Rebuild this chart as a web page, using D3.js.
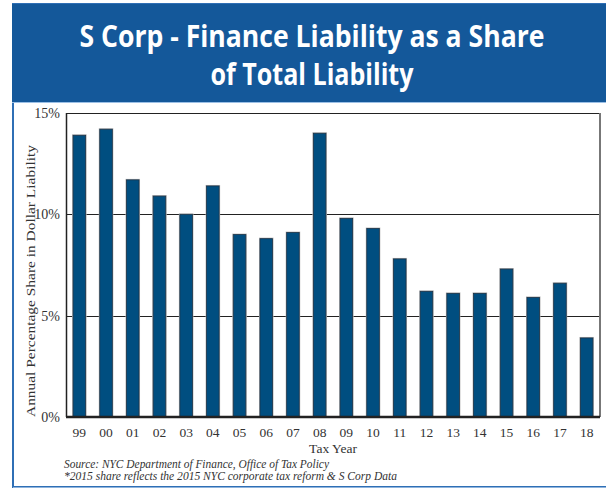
<!DOCTYPE html>
<html>
<head>
<meta charset="utf-8">
<script src="https://cdn.jsdelivr.net/npm/d3@7"></script>
<style>
  html, body { margin: 0; padding: 0; background: #fff; }
  svg { display: block; }
</style>
</head>
<body>
<div id="chart"></div>
<script>
// data
const years = ["99", "00", "01", "02", "03", "04", "05", "06", "07", "08",
               "09", "10", "11", "12", "13", "14", "15", "16", "17", "18"];
const shares = [13.9, 14.2, 11.7, 10.9, 10.0, 11.4, 9.0, 8.8, 9.1, 14.0,
                9.8, 9.3, 7.8, 6.2, 6.1, 6.1, 7.3, 5.9, 6.6, 3.9];
const yTicks = [0, 5, 10, 15];
const titleLines = ["S Corp - Finance Liability as a Share", "of Total Liability"];
const sourceLines = [
  "Source: NYC Department of Finance, Office of Tax Policy",
  "*2015 share reflects the 2015 NYC corporate tax reform & S Corp Data"
];

const W = 606, H = 489;
const blue = "#14589a";
const barFill = "#004e80";
const serif = "'Liberation Serif', 'DejaVu Serif', serif";
const titleFont = "'Open Sans', 'Liberation Sans', sans-serif";

const svg = d3.select("#chart").append("svg")
  .attr("width", W)
  .attr("height", H);

// outer frame (left + bottom blue rules)
svg.append("rect")
  .attr("x", 13).attr("y", 4)
  .attr("width", W + 10).attr("height", 483)
  .attr("fill", "none")
  .attr("stroke", "#2f6fb5")
  .attr("stroke-width", 2);
svg.append("line")
  .attr("x1", 13).attr("x2", W).attr("y1", 487.5).attr("y2", 487.5)
  .attr("stroke", "#8fb4dd").attr("stroke-width", 1);

// header band
svg.append("rect")
  .attr("x", 12).attr("y", 4)
  .attr("width", W - 12).attr("height", 98)
  .attr("fill", blue);
svg.append("line")
  .attr("x1", 12).attr("x2", W).attr("y1", 102.5).attr("y2", 102.5)
  .attr("stroke", "#9cc0e6").attr("stroke-width", 1);

// title is squeezed to the width of the condensed face in the reference
const titleWidths = [465, 203];
svg.selectAll("text.title")
  .data(titleLines)
  .enter()
  .append("text")
  .attr("class", "title")
  .attr("x", 312)
  .attr("y", (d, i) => 47 + i * 38)
  .attr("text-anchor", "middle")
  .attr("font-family", titleFont)
  .attr("font-weight", 700)
  .attr("font-size", 30)
  .attr("textLength", (d, i) => titleWidths[i])
  .attr("lengthAdjust", "spacingAndGlyphs")
  .attr("fill", "#fff")
  .text(d => d);

// plot area
const margin = { top: 113, right: 6, bottom: 72, left: 66 };
const innerW = W - margin.left - margin.right;
const innerH = H - margin.top - margin.bottom;

const g = svg.append("g")
  .attr("transform", `translate(${margin.left},${margin.top})`);

const x = d3.scaleBand()
  .domain(years)
  .range([0, innerW])
  .paddingInner(0.53)
  .paddingOuter(0.265);

const y = d3.scaleLinear()
  .domain([0, 15])
  .range([innerH, 0]);

// gridlines
g.selectAll("line.grid")
  .data(yTicks.filter(t => t > 0 && t < 15))
  .enter()
  .append("line")
  .attr("class", "grid")
  .attr("x1", 0).attr("x2", innerW)
  .attr("y1", d => Math.round(y(d)) + 0.5)
  .attr("y2", d => Math.round(y(d)) + 0.5)
  .attr("stroke", "#222")
  .attr("stroke-width", 1.2);

// bar shadows
g.selectAll("rect.shadow")
  .data(shares)
  .enter()
  .append("rect")
  .attr("class", "shadow")
  .attr("x", (d, i) => x(years[i]) - 1)
  .attr("y", d => y(d) - 1)
  .attr("width", x.bandwidth() + 2)
  .attr("height", d => innerH - y(d) + 1)
  .attr("fill", "#b8b8b8");

// bars
g.selectAll("rect.bar")
  .data(shares)
  .enter()
  .append("rect")
  .attr("class", "bar")
  .attr("x", (d, i) => x(years[i]))
  .attr("y", d => y(d))
  .attr("width", x.bandwidth())
  .attr("height", d => innerH - y(d))
  .attr("fill", barFill)
  .attr("stroke", "#1d3347")
  .attr("stroke-width", 0.8);

// frame
g.append("line")
  .attr("x1", 0).attr("x2", innerW).attr("y1", 0.5).attr("y2", 0.5)
  .attr("stroke", "#222").attr("stroke-width", 1.2);
g.append("line")
  .attr("x1", innerW).attr("x2", innerW).attr("y1", 0).attr("y2", innerH)
  .attr("stroke", "#777").attr("stroke-width", 2);
g.append("line")
  .attr("x1", 0.5).attr("x2", 0.5).attr("y1", 0).attr("y2", innerH)
  .attr("stroke", "#222").attr("stroke-width", 1.5);
g.append("line")
  .attr("x1", 0).attr("x2", innerW).attr("y1", innerH).attr("y2", innerH)
  .attr("stroke", "#222").attr("stroke-width", 2.5);

// y tick labels
g.selectAll("text.ytick")
  .data(yTicks)
  .enter()
  .append("text")
  .attr("class", "ytick")
  .attr("x", -6)
  .attr("y", d => y(d))
  .attr("dy", "0.35em")
  .attr("text-anchor", "end")
  .attr("font-family", serif)
  .attr("font-size", 14)
  .attr("fill", "#333")
  .text(d => d + "%");

// x tick labels
g.selectAll("text.xtick")
  .data(years)
  .enter()
  .append("text")
  .attr("class", "xtick")
  .attr("x", d => x(d) + x.bandwidth() / 2)
  .attr("y", innerH + 20)
  .attr("text-anchor", "middle")
  .attr("font-family", serif)
  .attr("font-size", 13.5)
  .attr("fill", "#333")
  .text(d => d);

// axis titles
g.append("text")
  .attr("x", innerW / 2)
  .attr("y", innerH + 36)
  .attr("text-anchor", "middle")
  .attr("font-family", serif)
  .attr("font-size", 13.5)
  .attr("fill", "#333")
  .text("Tax Year");

svg.append("text")
  .attr("transform", "translate(35,281) rotate(-90)")
  .attr("text-anchor", "middle")
  .attr("font-family", serif)
  .attr("font-size", 13.5)
  .attr("textLength", 272)
  .attr("lengthAdjust", "spacingAndGlyphs")
  .attr("fill", "#333")
  .text("Annual Percentage Share in Dollar Liability");

// source notes
const sourceWidths = [265, 333];
svg.selectAll("text.source")
  .data(sourceLines)
  .enter()
  .append("text")
  .attr("class", "source")
  .attr("x", 64)
  .attr("y", (d, i) => 468 + i * 12)
  .attr("font-family", serif)
  .attr("font-style", "italic")
  .attr("font-size", 11.5)
  .attr("textLength", (d, i) => sourceWidths[i])
  .attr("lengthAdjust", "spacingAndGlyphs")
  .attr("fill", "#333")
  .text(d => d);
</script>
</body>
</html>
